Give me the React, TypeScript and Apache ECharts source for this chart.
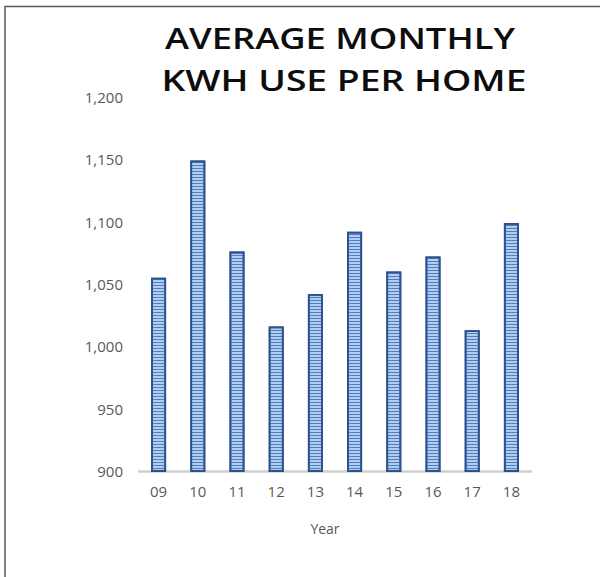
import React, { useEffect, useRef } from "react";
import * as echarts from "echarts";

const titleLines = ["AVERAGE MONTHLY", "KWH USE PER HOME"];
const years = ["09", "10", "11", "12", "13", "14", "15", "16", "17", "18"];
const kwh = [1055, 1149, 1076, 1016, 1042, 1092, 1060, 1072, 1013, 1099];
const yMin = 900;
const yMax = 1200;
const yStep = 50;
const xAxisTitle = "Year";

function measure(text: string, font: string): number {
  const c = document.createElement("canvas").getContext("2d");
  if (!c) return 300;
  c.font = font;
  return c.measureText(text).width;
}

export default function App() {
  const ref = useRef<HTMLDivElement>(null);
  useEffect(() => {
    if (!ref.current) return;
    const chart = echarts.init(ref.current, undefined, { renderer: "svg" });
    const titleFont = "600 28px 'Open Sans'";
    const targets = [350, 365];
    const centers = [340, 344];
    const ys = [38.5, 80];
    const titleEls = titleLines.map((t, i) => ({
      type: "text",
      x: centers[i],
      y: ys[i],
      scaleX: targets[i] / measure(t, titleFont),
      style: {
        text: t,
        fill: "#0d0d0d",
        font: titleFont,
        textAlign: "center",
        textVerticalAlign: "middle",
      },
    }));
    chart.setOption({
      animation: false,
      backgroundColor: "#ffffff",
      grid: { left: 139, right: 69, top: 97, bottom: 106, containLabel: false },
      xAxis: {
        type: "category",
        data: years,
        axisLine: { lineStyle: { color: "#cfcfcf", width: 2.5 } },
        axisTick: { show: false },
        axisLabel: {
          color: "#595959",
          fontFamily: "Open Sans",
          fontSize: 15,
          margin: 12,
        },
      },
      yAxis: {
        type: "value",
        min: yMin,
        max: yMax,
        interval: yStep,
        splitLine: { show: false },
        axisLine: { show: false },
        axisTick: { show: false },
        axisLabel: {
          color: "#595959",
          fontFamily: "Open Sans",
          fontSize: 15,
          margin: 16,
          formatter: (v: number) => v.toLocaleString("en-US"),
        },
      },
      series: [
        {
          type: "bar",
          data: kwh,
          barWidth: 15,
          itemStyle: {
            color: "#b3cdee",
            borderColor: "#2b528f",
            borderWidth: 1.8,
            decal: {
              symbol: "rect",
              symbolSize: 1,
              dashArrayX: [1, 0],
              dashArrayY: [1, 2],
              rotation: 0,
              color: "#4f7fc0",
            },
          },
        },
      ],
      graphic: [
        {
          type: "rect",
          shape: { x: 5, y: 6.5, width: 700, height: 700 },
          style: { fill: "none", stroke: "#595959", lineWidth: 1.5 },
          silent: true,
        },
        ...titleEls,
        {
          type: "text",
          x: 325,
          y: 528,
          style: {
            text: xAxisTitle,
            fill: "#595959",
            font: "14px 'Open Sans'",
            textAlign: "center",
            textVerticalAlign: "middle",
          },
        },
      ],
    });
    return () => chart.dispose();
  }, []);
  return (
    <div
      ref={ref}
      style={{ position: "absolute", left: 0, top: 0, width: 600, height: 577 }}
    />
  );
}
